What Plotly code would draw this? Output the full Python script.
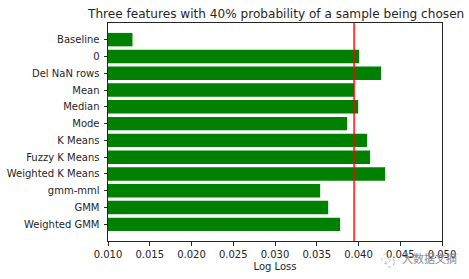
import plotly.graph_objects as go

categories = ["Baseline", "0", "Del NaN rows", "Mean", "Median", "Mode", "K Means",
              "Fuzzy K Means", "Weighted K Means", "gmm-mml", "GMM", "Weighted GMM"]
log_loss = [0.01293, 0.04008, 0.0427, 0.03948, 0.03996, 0.03864, 0.04103,
            0.04139, 0.04319, 0.03541, 0.03637, 0.03780]
reference_loss = 0.03948
x_ticks = [0.010, 0.015, 0.020, 0.025, 0.030, 0.035, 0.040, 0.045, 0.050]
title = "Three features with 40% probability of a sample being chosen"
x_label = "Log Loss"
watermark = "大数据文摘"

FONT = "DejaVu Sans"
INK = "#262626"

fig = go.Figure()
fig.add_trace(go.Bar(
    y=list(range(len(categories))), x=[v - 0.01 for v in log_loss], base=0.01,
    orientation="h", width=0.8, marker=dict(color="#008000", line=dict(width=0)),
    hoverinfo="skip",
))
fig.add_shape(type="line", xref="x", yref="paper", x0=reference_loss, x1=reference_loss,
              y0=0, y1=1, line=dict(color="rgba(255,0,0,0.75)", width=2), layer="above")
fig.add_annotation(xref="paper", yref="paper", x=0.5, y=1, yshift=0, xanchor="center", yanchor="bottom",
                   text=title, showarrow=False, font=dict(family=FONT, size=12.1, color=INK))
fig.add_annotation(xref="paper", yref="paper", x=1.05, y=-0.03, xanchor="right", yanchor="top",
                   text=watermark, showarrow=False, font=dict(family="Noto Sans CJK SC", size=11, color="#8a8a8a"))
# faint WeChat-style mark beside the watermark
fig.add_shape(type="circle", xref="paper", yref="paper", x0=0.82, x1=0.845, y0=-0.105, y1=-0.06,
              line=dict(color="#c4c4c4", width=1, dash="dot"))
fig.add_shape(type="circle", xref="paper", yref="paper", x0=0.832, x1=0.857, y0=-0.12, y1=-0.075,
              line=dict(color="#b0b0b0", width=1, dash="dot"))
fig.update_layout(
    width=469, height=279, margin=dict(l=107.5, r=27, t=23, b=37.5),
    paper_bgcolor="white", plot_bgcolor="white", showlegend=False,
    font=dict(family=FONT, size=10, color=INK),
    xaxis=dict(range=[0.01, 0.05], tickvals=x_ticks, tickformat=".3f", ticks="outside", ticklen=3.5,
               tickwidth=1, tickcolor=INK, showgrid=False, zeroline=False, showline=True, mirror=True,
               linecolor=INK, linewidth=1,
               title=dict(text=x_label, font=dict(size=10, color=INK), standoff=4), automargin=False),
    yaxis=dict(range=[11.99, -0.99], tickvals=list(range(len(categories))), ticktext=categories,
               ticks="outside", ticklen=3.5, tickwidth=1, tickcolor=INK, showgrid=False, zeroline=False,
               ticklabelstandoff=2,
               showline=True, mirror=True, linecolor=INK, linewidth=1, automargin=False),
)
fig.write_html("out.html", config={"displayModeBar": False},
               post_script="document.body.style.margin='0';document.documentElement.style.overflow='hidden';window.dispatchEvent(new Event('resize'));")
